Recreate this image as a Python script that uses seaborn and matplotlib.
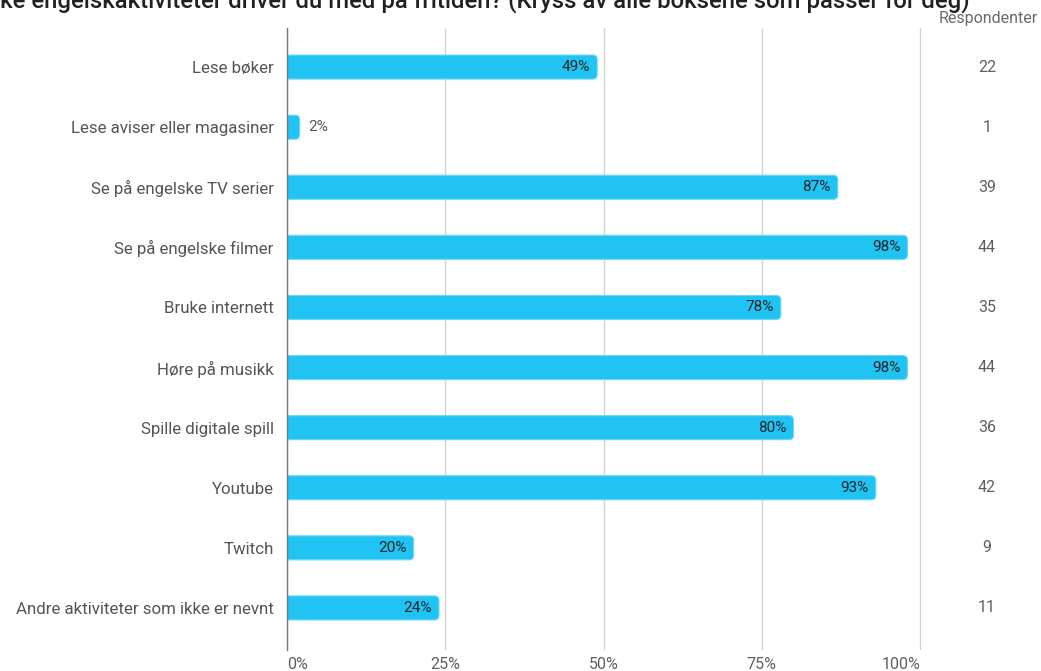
import matplotlib
matplotlib.use("Agg")
import matplotlib.pyplot as plt
from matplotlib.patches import FancyBboxPatch
from matplotlib.transforms import blended_transform_factory
import seaborn as sns
import pandas as pd

# Survey answers: share of the 45 respondents choosing each activity
categories = [
    "Lese bøker",
    "Lese aviser eller magasiner",
    "Se på engelske TV serier",
    "Se på engelske filmer",
    "Bruke internett",
    "Høre på musikk",
    "Spille digitale spill",
    "Youtube",
    "Twitch",
    "Andre aktiviteter som ikke er nevnt",
]
percent = [49, 2, 87, 98, 78, 98, 80, 93, 20, 24]
respondents = [22, 1, 39, 44, 35, 44, 36, 42, 9, 11]
x_ticks = [0, 25, 50, 75, 100]
x_tick_labels = ["0%", "25%", "50%", "75%", "100%"]

title = ("Hvilke engelskaktiviteter driver du med på fritiden? "
         "(Kryss av alle boksene som passer for deg)")

df = pd.DataFrame({"aktivitet": categories, "prosent": percent})

sns.set_theme(style="white")
plt.rcParams["font.family"] = ["Roboto", "DejaVu Sans"]

W, H = 1041, 671
fig = plt.figure(figsize=(W / 100, H / 100), dpi=100)
ax_left, ax_right, ax_top, ax_bottom = 287, 922, 28, 650
x_max = 100.3
ax = fig.add_axes([ax_left / W, 1 - ax_bottom / H,
                   (ax_right - ax_left) / W, (ax_bottom - ax_top) / H])

bar_color = "#20c3f2"
sns.barplot(data=df, x="prosent", y="aktivitet", orient="h", color=bar_color,
            width=0.4, saturation=1, ax=ax, zorder=3)

ax.set_xlim(0, x_max)
ax.set_ylim(9.7, -0.65)

# Rounded bar ends (square start hidden behind the axis)
px_per_x = (ax_right - ax_left) / x_max
px_per_y = (ax_bottom - ax_top) / 10.35
r = 4.5 / px_per_x
for p in list(ax.patches):
    x0, y0, w, h = p.get_x(), p.get_y(), p.get_width(), p.get_height()
    p.remove()
    fb = FancyBboxPatch((x0 - r, y0), w + r, h,
                        boxstyle=f"round,pad=0,rounding_size={r}",
                        mutation_aspect=px_per_x / px_per_y,
                        facecolor=bar_color, edgecolor="#6fd8f7", linewidth=0.8,
                        zorder=3, clip_on=True)
    ax.add_patch(fb)

# Value labels
for i, v in enumerate(percent):
    if v >= 10:
        ax.annotate(f"{v}%", (v, i), xytext=(-5, 0), textcoords="offset points",
                    ha="right", va="center", fontsize=11, color="#18252c", zorder=4)
    else:
        ax.annotate(f"{v}%", (v, i), xytext=(6, 0), textcoords="offset points",
                    ha="left", va="center", fontsize=11, color="#555555", zorder=4)

# Respondent counts column
count_tf = blended_transform_factory(fig.transFigure, ax.transData)
for i, n in enumerate(respondents):
    ax.text(987 / W, i, str(n), transform=count_tf,
            ha="center", va="center", fontsize=11.5, color="#5f5f5f")
fig.text(1038 / W, 1 - 19 / H, "Respondenter", ha="right", va="center",
         fontsize=11.5, color="#6a6a6a")

# Grid and axes styling
ax.set_xticks(x_ticks)
ax.set_xticklabels(x_tick_labels)
for lbl in ax.get_xticklabels():
    lbl.set_fontsize(11.5)
    lbl.set_color("#5f5f5f")
labels = ax.get_xticklabels()
labels[0].set_ha("left")
labels[-1].set_ha("right")
ax.tick_params(axis="x", length=0, pad=5)
ax.tick_params(axis="y", length=0, pad=9.5, labelsize=12.2, labelcolor="#555555")
ax.set_xlabel("")
ax.set_ylabel("")
ax.grid(axis="x", color="#d3d3d3", linewidth=1, zorder=0)
ax.grid(axis="y", visible=False)
for s in ["top", "right", "bottom"]:
    ax.spines[s].set_visible(False)
ax.spines["left"].set_color("#777777")
ax.spines["left"].set_linewidth(1)
ax.spines["left"].set_zorder(5)

fig.text(970 / W, 1 - 8 / H, title, ha="right", va="baseline",
         fontsize=17.2, color="#202124", fontweight="medium")

fig.savefig("out.png", dpi=100, facecolor="white")
